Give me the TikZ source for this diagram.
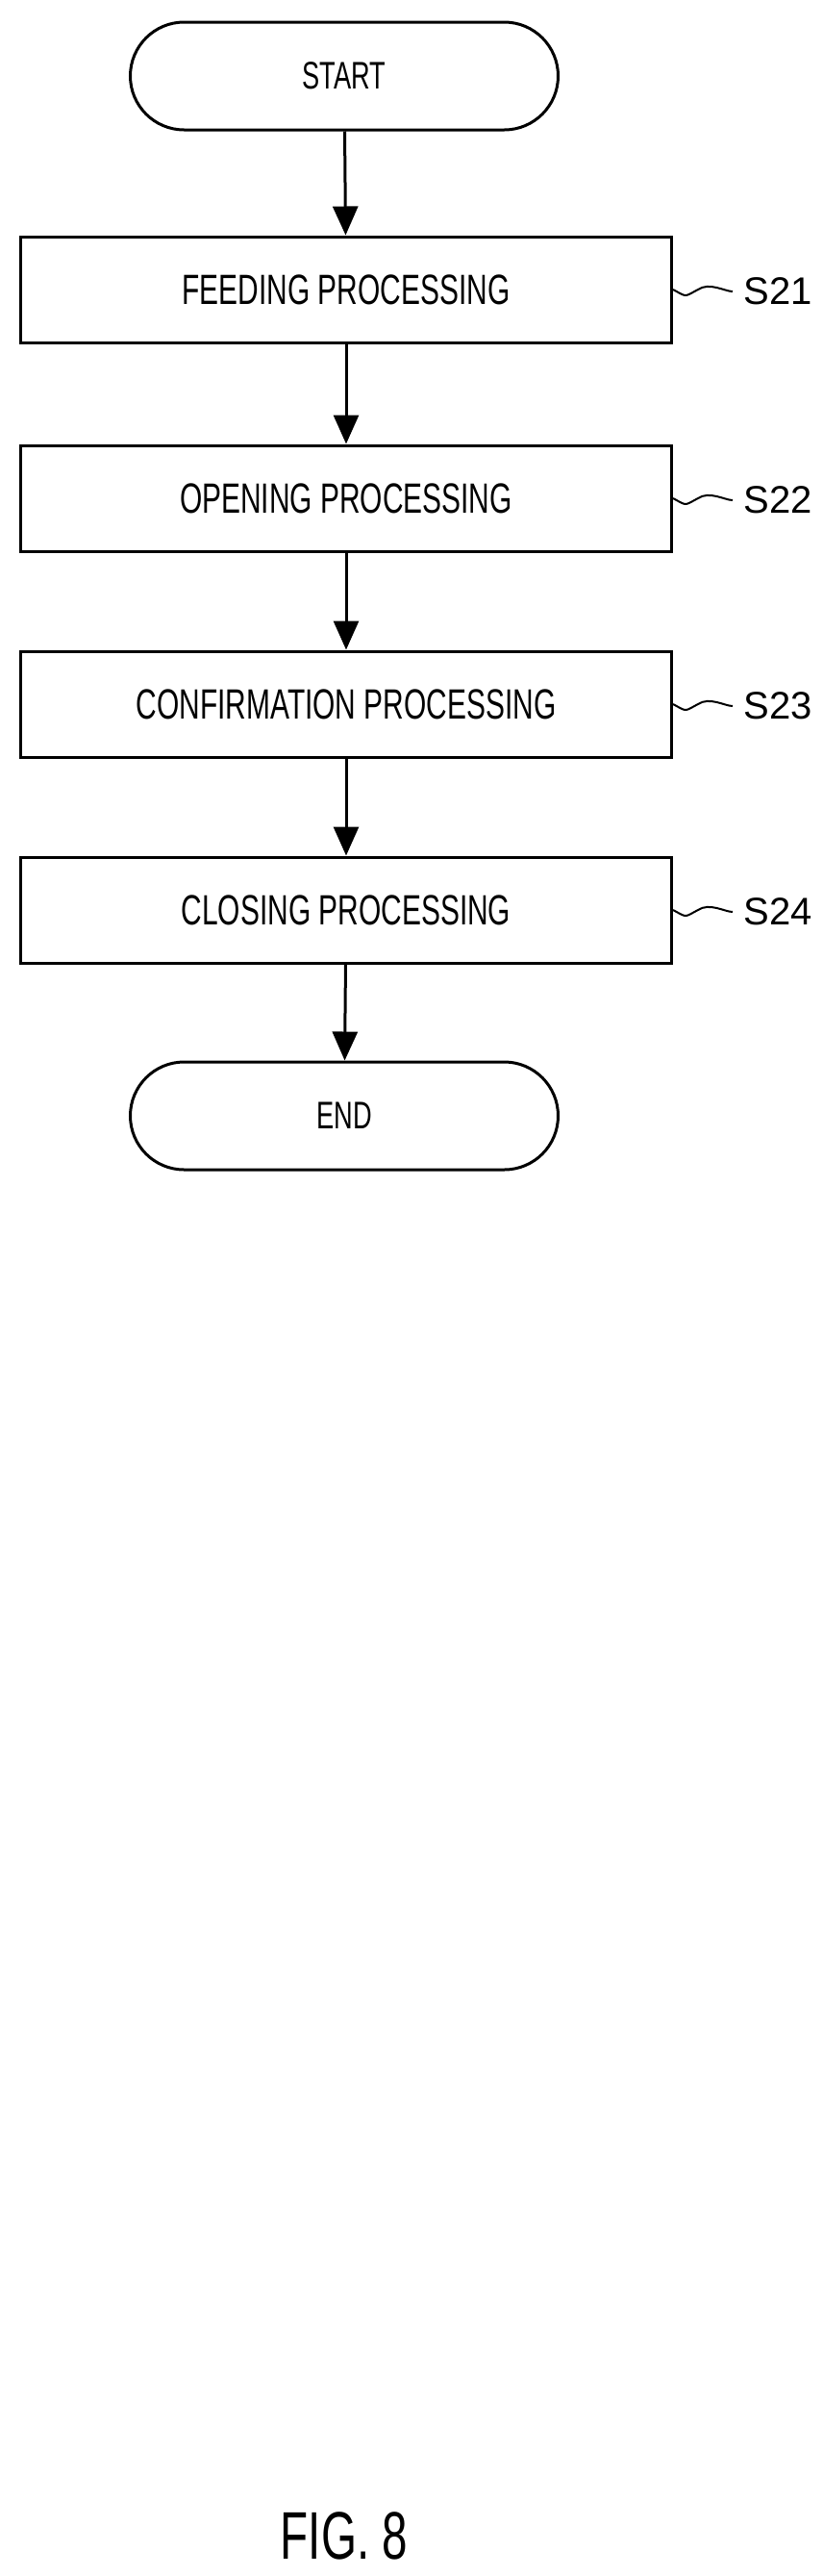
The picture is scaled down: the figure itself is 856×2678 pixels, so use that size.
\documentclass[tikz,border=0pt]{standalone}
\usepackage{fontspec}
\setmainfont{Liberation Sans}[FakeStretch=0.68]
\newfontfamily\labfont{Liberation Sans}
\usetikzlibrary{arrows.meta,shapes.misc}
\begin{document}
\begin{tikzpicture}[x=1pt,y=-1pt,line width=3pt,
  term/.style={draw,rounded rectangle,minimum width=445pt,minimum height=112pt,font=\fontsize{40}{44}\selectfont,inner sep=0pt},
  stepbox/.style={draw,rectangle,minimum width=677pt,minimum height=110pt,font=\fontsize{44}{48}\selectfont,inner sep=0pt},
  flow/.style={-{Triangle[length=30pt,width=26pt]}},
  steplab/.style={font=\labfont\fontsize{40}{44}\selectfont,anchor=west,inner sep=0pt}]
\useasboundingbox (0,0) rectangle (856,2678);
\node[term] (start) at (358,79) {START};
\node[stepbox] (s1) at (360,301) {FEEDING PROCESSING};
\node[stepbox] (s2) at (360,518) {OPENING PROCESSING};
\node[stepbox] (s3) at (360,732) {CONFIRMATION PROCESSING};
\node[stepbox] (s4) at (360,946) {CLOSING PROCESSING};
\node[term] (end) at (358,1160) {END};
\draw[flow] (start) -- (s1);
\draw[flow] (s1) -- (s2);
\draw[flow] (s2) -- (s3);
\draw[flow] (s3) -- (s4);
\draw[flow] (s4) -- (end);
\node[steplab] (l1) at (772,303) {S21};
\node[steplab] (l2) at (772,520) {S22};
\node[steplab] (l3) at (772,734) {S23};
\node[steplab] (l4) at (772,948) {S24};
\foreach \i in {1,2,3,4}{
  \draw[line width=2pt] (s\i.east) .. controls +(15,8) and +(-15,8) .. ++(26,0) .. controls +(12,-8) and +(-8,0) .. ([xshift=-10pt]l\i.west);
}
\node[font=\fontsize{70}{76}\selectfont] (fig) at (358,2636) {FIG. 8};
\end{tikzpicture}
\end{document}
